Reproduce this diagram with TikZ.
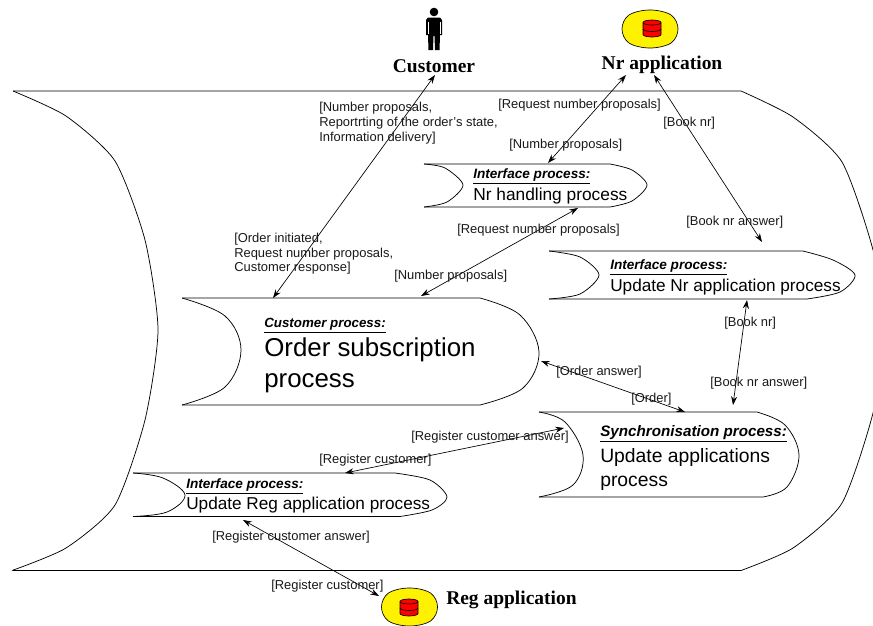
\documentclass[tikz,border=0pt]{standalone}
\usepackage{fontspec}
\setmainfont{Liberation Sans}
\newfontfamily\serifb{Liberation Serif}
\usetikzlibrary{arrows.meta}
\tikzset{
  procline/.style={draw=black,line width=0.55pt,line join=round},
  conn/.style={draw=black,line width=0.5pt,{Stealth[length=6.5pt,width=4.5pt]}-{Stealth[length=6.5pt,width=4.5pt]}},
  lab/.style={inner sep=0pt,anchor=west,font=\fontsize{9.7}{11.2}\selectfont,align=left,text=black!90},
  head/.style={inner sep=0pt,anchor=west,font=\fontsize{10.2}{12}\selectfont\bfseries\itshape},
  body/.style={inner sep=0pt,anchor=west,align=left},
  actor/.style={inner sep=0pt,font=\fontsize{14.6}{16}\serifb\bfseries},
  dbell/.style={draw=black,fill=yellow,line width=0.5pt},
  dbcyl/.style={draw=black,fill=red,line width=0.5pt}
}
\newcommand{\ulhead}[1]{\underline{#1}}
\newcommand{\dbicon}[4]{%
  \begin{scope}[shift={(#1,#2)}]
    \draw[dbell] plot[smooth cycle,tension=0.6] coordinates {(-28,0) (-21,-14) (0,-19) (21,-14) (28,0) (21,14) (0,19) (-21,14)};
    \begin{scope}[shift={(#3,#4)}]
    \draw[dbcyl] (-9,-6) -- (-9,6) arc[start angle=180,end angle=360,x radius=9,y radius=-2.5] -- (9,-6) arc[start angle=0,end angle=-180,x radius=9,y radius=2.5] -- cycle;
    \draw[dbcyl] (-9,-6) arc[start angle=180,end angle=360,x radius=9,y radius=-2.5];
    \draw[black,line width=0.5pt] (-9,0.5) arc[start angle=180,end angle=360,x radius=9,y radius=-2.5];
    \end{scope}
  \end{scope}}
\begin{document}
\begin{tikzpicture}[x=0.75pt,y=-0.75pt]
\useasboundingbox (0,0) rectangle (873,625);
\fill[white] (0,0) rectangle (873,625);
\begin{scope}
\clip (0,0) rectangle (873,625);
\draw[procline] (13,91) -- (741,91) plot[smooth,tension=0.4] coordinates {(741,91) (793,117) (842,162) (873,250) (885,330) (873,413) (842,503) (793,548) (741,570.5)} -- (13,570.5);
\draw[procline] plot[smooth,tension=0.4] coordinates {(13,91) (66,116) (115,161) (145,240) (158,330) (145,420) (115,505) (66,548) (12,570.5)};
\end{scope}
% customer process
\draw[procline] (182,298) -- (480,298) plot[smooth,tension=0.6] coordinates {(480,298) (520,315) (539,352) (523,388) (480,405)} -- (182,405);
\draw[procline] plot[smooth,tension=0.6] coordinates {(182,298) (225,316) (241,350) (225,387) (182,405)};
\coordinate (custTop) at (273,298);
\coordinate (custRightTop) at (421,296);
\coordinate (custRight) at (541,361);
% Nr handling
\draw[procline] (424,164) -- (610,164) plot[smooth,tension=0.5] coordinates {(610,164) (632,170) (647,185) (632,201) (610,207)} -- (424,207);
\draw[procline] plot[smooth,tension=0.5] coordinates {(424,164) (445,168) (463,185) (447,202) (424,207)};
\coordinate (nrhTop) at (548,163);
\coordinate (nrhBottom) at (578,208);
% Update Nr
\draw[procline] (549,251) -- (803,251) plot[smooth,tension=0.5] coordinates {(803,251) (833,260) (855,275) (840,292) (807,299)} -- (549,299);
\draw[procline] plot[smooth,tension=0.5] coordinates {(549,251) (580,257) (599,275) (580,294) (549,299)};
\coordinate (unrTop) at (762,242);
\coordinate (unrBottom) at (747,300);
% Synchronisation
\draw[procline] (539,412) -- (757,412) plot[smooth,tension=0.6] coordinates {(757,412) (785,425) (799,455) (787,487) (763,497)} -- (539,497);
\draw[procline] plot[smooth,tension=0.6] coordinates {(539,412) (565,422) (583,455) (573,485) (539,497)};
\coordinate (syncTopR) at (733,405);
\coordinate (syncTopL) at (685,412);
\coordinate (syncLeft) at (564,428);
% Update Reg
\draw[procline] (133,473) -- (395,473) plot[smooth,tension=0.5] coordinates {(395,473) (430,480) (447,497) (432,510) (400,516.5)} -- (133,516.5);
\draw[procline] plot[smooth,tension=0.6] coordinates {(133,473) (163,478) (185,495) (167,512) (133,516.5)};
\coordinate (regTop) at (345,473);
\coordinate (regBottom) at (243,520);
% actors
\fill[black] (434,12) circle[radius=4.3];
\fill[black] (428,17.5) -- (440,17.5) -- (442,20) -- (442,35) -- (440,35) -- (439.5,50) -- (435,50) -- (434.5,36) -- (433.5,36) -- (433,50) -- (428.5,50) -- (428,35) -- (426,35) -- (426,20) -- cycle;
\draw[white,line width=0.3pt] (428,22) -- (428,34) (440,22) -- (440,34);
\node[actor] (customer) at (434,66) {Customer};
\coordinate (custAnchor) at (435,75);
\dbicon{650}{29}{2}{-0.5}
\node[actor] (nrapp) at (662,65) {Nr application};
\coordinate (nrA) at (626,75);
\coordinate (nrB) at (654,75);
\dbicon{409.5}{607}{-0.5}{0.5}
\node[actor,anchor=west] (regapp) at (446,600) {Reg application};
\coordinate (regA) at (379,596);
% process text
\node[head] (t1a) at (473,176) {\ulhead{Interface process:}};
\node[body,font=\fontsize{13}{15}\selectfont] (t1b) at (473,196) {Nr handling process};
\node[head] (t2a) at (610,267) {\ulhead{Interface process:}};
\node[body,font=\fontsize{12.9}{15}\selectfont] (t2b) at (610,287) {Update Nr application process};
\node[head,font=\fontsize{10}{12}\selectfont\bfseries\itshape] (t3a) at (264,326) {\ulhead{Customer process:}};
\node[body,font=\fontsize{19.4}{23}\selectfont] (t3b) at (264,365) {Order subscription\\process};
\node[head,font=\fontsize{11.4}{13}\selectfont\bfseries\itshape] (t4a) at (600,434) {\ulhead{Synchronisation process:}};
\node[body,font=\fontsize{14.5}{18}\selectfont] (t4b) at (600,469) {Update applications\\process};
\node[head] (t5a) at (186,486) {\ulhead{Interface process:}};
\node[body,font=\fontsize{12.9}{15}\selectfont] (t5b) at (186,505) {Update Reg application process};
% connectors
\draw[conn] (custAnchor) -- (custTop);
\draw[conn] (nrA) -- (nrhTop);
\draw[conn] (nrB) -- (unrTop);
\draw[conn] (nrhBottom) -- (custRightTop);
\draw[conn] (unrBottom) -- (syncTopR);
\draw[conn] (custRight) -- (syncTopL);
\draw[conn] (syncLeft) -- (regTop);
\draw[conn] (regBottom) -- (regA);
% labels
\node[lab] (l1) at (319,123) {[Number proposals,\\Reportrting of the order's state,\\Information delivery]};
\node[lab] (l2) at (498,105.5) {[Request number proposals]};
\node[lab] (l3) at (663,123.5) {[Book nr]};
\node[lab] (l4) at (509,145.5) {[Number proposals]};
\node[lab] (l5) at (686,222.5) {[Book nr answer]};
\node[lab] (l6) at (457,230.5) {[Request number proposals]};
\node[lab] (l7) at (234,253.7) {[Order initiated,\\Request number proposals,\\Customer response]};
\node[lab] (l8) at (394,276.5) {[Number proposals]};
\node[lab] (l9) at (724,323.5) {[Book nr]};
\node[lab] (l10) at (710,383.5) {[Book nr answer]};
\node[lab] (l11) at (556,372.5) {[Order answer]};
\node[lab] (l12) at (631,399.5) {[Order]};
\node[lab] (l13) at (411,437.5) {[Register customer answer]};
\node[lab] (l14) at (319,460.5) {[Register customer]};
\node[lab] (l15) at (212,537.5) {[Register customer answer]};
\node[lab] (l16) at (271,586) {[Register customer]};
\end{tikzpicture}
\end{document}
